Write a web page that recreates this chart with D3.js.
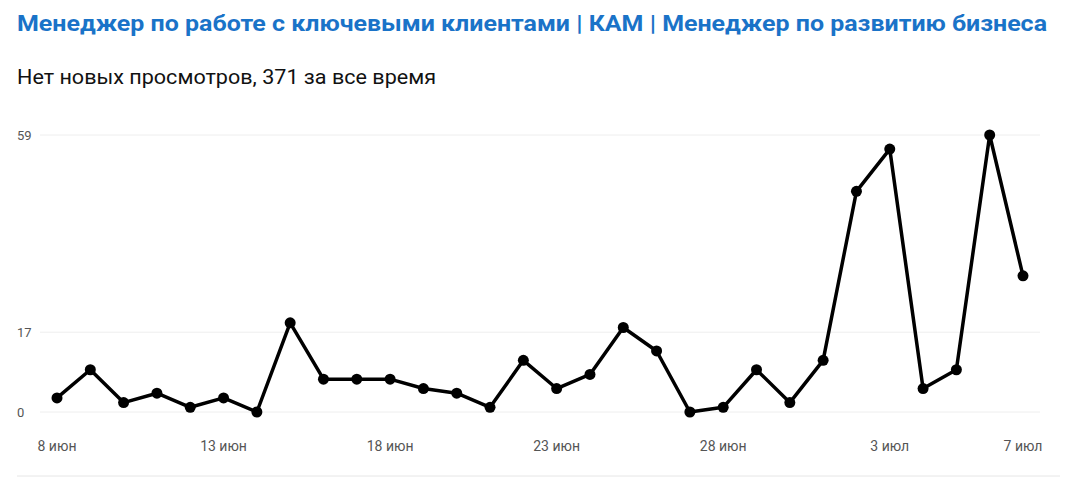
<!DOCTYPE html>
<html><head><meta charset="utf-8">
<script src="https://cdn.jsdelivr.net/npm/d3@7"></script>
<style>body{margin:0;background:#fff;font-family:Roboto,"Noto Sans",sans-serif}</style>
</head><body><svg id="c" width="1078" height="478"></svg>
<script>
const title = "Менеджер по работе с ключевыми клиентами | КАМ | Менеджер по развитию бизнеса";
const subtitle = "Нет новых просмотров, 371 за все время";
const days = d3.range(30).map(i => new Date(2024, 5, 8 + i));
const values = [3,9,2,4,1,3,0,19,7,7,7,5,4,1,11,5,8,18,13,0,1,9,2,11,47,56,5,9,59,29];
const yTicks = [0,17,59];
const xTickDays = [0,5,10,15,20,25,29];
const months = ["янв","фев","мар","апр","мая","июн","июл","авг","сен","окт","ноя","дек"];

const svg = d3.select("#c");
svg.append("text").attr("x",17).attr("y",31).attr("fill","#1a73c8").attr("font-size",22).attr("font-weight",700)
  .attr("textLength",1030).attr("lengthAdjust","spacingAndGlyphs").text(title);
svg.append("text").attr("x",17).attr("y",84).attr("fill","#111").attr("font-size",20)
  .attr("textLength",419).attr("lengthAdjust","spacingAndGlyphs").text(subtitle);

const x = d3.scaleTime().domain([days[0], days[29]]).range([57,1023]);
const y = d3.scaleLinear().domain([0,59]).range([412,135]);

svg.append("g").selectAll("line").data(yTicks).join("line")
  .attr("x1",40).attr("x2",1040).attr("y1",d=>y(d)).attr("y2",d=>y(d)).attr("stroke","#eee");
svg.append("line").attr("x1",17).attr("x2",1060).attr("y1",476).attr("y2",476).attr("stroke","#e6e6e6");
svg.append("g").selectAll("text").data(yTicks).join("text")
  .attr("x",17).attr("y",d=>y(d)+5).attr("font-size",13).attr("fill","#555").text(d=>d);

const fmt = d => d.getDate()+" "+months[d.getMonth()];
svg.append("g").selectAll("text").data(xTickDays).join("text")
  .attr("x",i=>x(days[i])).attr("y",451).attr("text-anchor","middle").attr("font-size",14).attr("fill","#555")
  .text(i=>fmt(days[i]));

svg.append("path").datum(values).attr("fill","none").attr("stroke","#000").attr("stroke-width",3.5)
  .attr("stroke-linejoin","round")
  .attr("d", d3.line().x((d,i)=>x(days[i])).y(d=>y(d)));
svg.append("g").selectAll("circle").data(values).join("circle")
  .attr("cx",(d,i)=>x(days[i])).attr("cy",d=>y(d)).attr("r",5.5).attr("fill","#000");
</script></body></html>
